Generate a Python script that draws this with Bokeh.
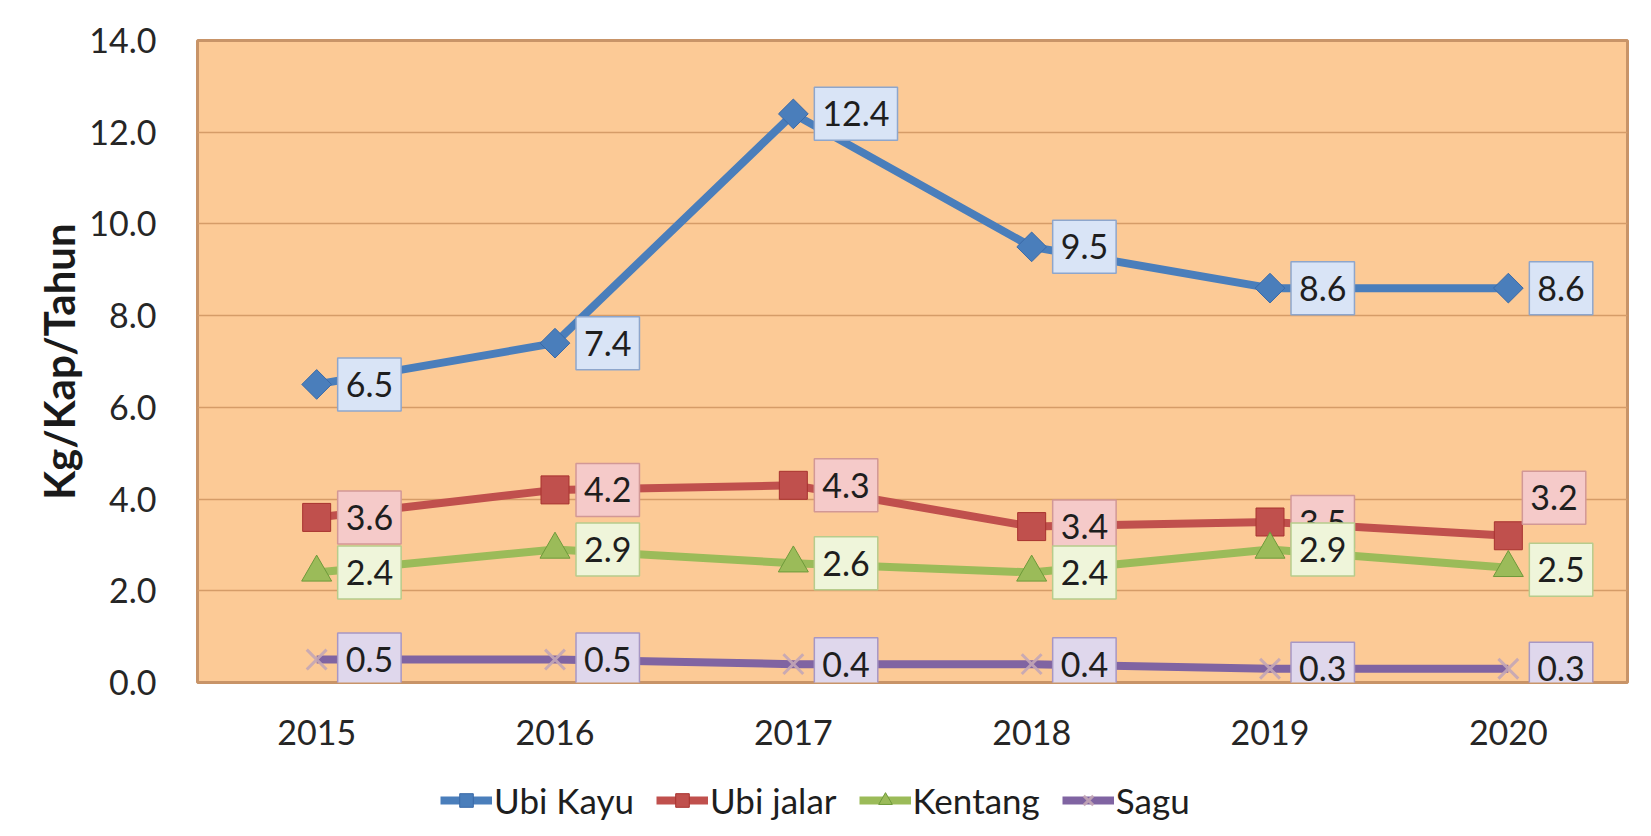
import math
from bokeh.plotting import figure
from bokeh.layouts import column
from bokeh.models import Range1d, FixedTicker, NumeralTickFormatter, Legend, LegendItem
from bokeh.core.properties import value
from bokeh.embed import file_html
from bokeh.resources import INLINE

# ---- data ----
years = ["2015", "2016", "2017", "2018", "2019", "2020"]
ubi_kayu = [6.5, 7.4, 12.4, 9.5, 8.6, 8.6]
ubi_jalar = [3.6, 4.2, 4.3, 3.4, 3.5, 3.2]
kentang = [2.4, 2.9, 2.6, 2.4, 2.9, 2.5]
sagu = [0.5, 0.5, 0.4, 0.4, 0.3, 0.3]
series_names = ["Ubi Kayu", "Ubi jalar", "Kentang", "Sagu"]
y_ticks = [0, 2, 4, 6, 8, 10, 12, 14]
y_axis_label = "Kg/Kap/Tahun"

series_values = [ubi_kayu, ubi_jalar, kentang, sagu]

# ---- styles ----
FONT = "Lato"
styles = [
    dict(color="#4A7EBB", edge="#3A6AA8", marker="square", angle=math.pi / 4, size=21,
         box="#D9E4F6", border="#8EA6CC"),
    dict(color="#C0504D", edge="#A8322F", marker="square", angle=0.0, size=28,
         box="#F5CAC9", border="#D29896"),
    dict(color="#9BBB59", edge="#6E9A3A", marker="triangle", angle=0.0, size=30,
         box="#EFF5DA", border="#B7CC8C"),
    dict(color="#8064A2", edge="#C3A6B6", marker="x", angle=0.0, size=28,
         box="#DFD7EC", border="#A797C4"),
]
# label offsets in screen pixels (default to the right of each point)
label_dx = [[21] * 6, [21, 21, 21, 21, 21, 14], [21] * 6, [21] * 6]
label_dy = [[0] * 6, [0, 0, 0, 0, 0, -38], [0, 0, 0, 0, 0, 2], [0] * 6]

W = 1643
p = figure(
    width=W, height=770,
    x_range=years, y_range=Range1d(0, y_ticks[-1]),
    output_backend="svg", toolbar_location=None,
    min_border_left=197, min_border_right=16, min_border_top=40, min_border_bottom=88,
    background_fill_color="#FCCA96", border_fill_color="white",
)
p.outline_line_color = "#C89468"
p.outline_line_width = 3

p.xgrid.grid_line_color = None
p.ygrid.grid_line_color = "#D59C68"
p.ygrid.grid_line_width = 1.5
p.yaxis.ticker = FixedTicker(ticks=y_ticks)
p.yaxis.formatter = NumeralTickFormatter(format="0.0")

for ax in (p.xaxis[0], p.yaxis[0]):
    ax.axis_line_color = None
    ax.major_tick_line_color = None
    ax.minor_tick_line_color = None
    ax.major_tick_out = 0
    ax.major_label_text_font = FONT
    ax.major_label_text_font_size = "34px"
    ax.major_label_text_color = "#262626"

p.yaxis.major_label_standoff = 41
p.xaxis.major_label_standoff = 37
p.yaxis.axis_label = y_axis_label
p.yaxis.axis_label_text_font = FONT
p.yaxis.axis_label_text_font_style = "bold"
p.yaxis.axis_label_text_font_size = "42px"
p.yaxis.axis_label_text_color = "#1a1a1a"
p.yaxis.axis_label_standoff = 2


def draw_series(fig, xs, vals, st):
    ln = fig.line(x=xs, y=vals, line_color=st["color"], line_width=8)
    if st["marker"] == "x":
        sc = fig.scatter(x=xs, y=vals, marker="x", size=st["size"],
                         line_color=st["edge"], line_width=3, line_alpha=0.9)
    else:
        sc = fig.scatter(x=xs, y=vals, marker=st["marker"], size=st["size"],
                         angle=st["angle"], fill_color=st["color"],
                         line_color=st["edge"], line_width=1)
    return ln, sc


for vals, st in zip(series_values, styles):
    draw_series(p, years, vals, st)

for vals, st, dx, dy in zip(series_values, styles, label_dx, label_dy):
    p.text(x=years, y=vals, text=[f"{v:.1f}" for v in vals],
           x_offset=dx, y_offset=dy, anchor="center_left",
           text_font=value(FONT), text_font_size="34px", text_color="#1e1e1e",
           background_fill_color=st["box"], border_line_color=st["border"],
           border_line_width=1.5,
           padding=dict(left=8, right=8, top=14, bottom=14))

# ---- legend strip below the chart ----
# the legend figure's own view range lies outside the data, so only the legend shows
leg_fig = figure(
    width=W, height=60, x_range=Range1d(-3, -2), y_range=Range1d(0, 1),
    output_backend="svg", toolbar_location=None,
    min_border_left=0, min_border_right=0, min_border_top=0, min_border_bottom=0,
    background_fill_color="white", border_fill_color="white",
)
leg_fig.axis.visible = False
leg_fig.grid.grid_line_color = None
leg_fig.outline_line_color = None

idx = list(range(len(years)))
items = []
for name, vals, st in zip(series_names, series_values, styles):
    ln, sc = draw_series(leg_fig, idx, vals, st)
    items.append(LegendItem(label=name, renderers=[ln, sc]))

legend = Legend(items=items, orientation="horizontal", location=(243, 9),
                label_text_font=FONT, label_text_font_size="35px",
                label_text_color="#1e1e1e", glyph_width=52, glyph_height=34,
                label_standoff=2, spacing=22, padding=0, margin=0,
                background_fill_alpha=0, border_line_alpha=0)
leg_fig.add_layout(legend, "center")

layout = column(p, leg_fig, spacing=0)

open("out.html", "w").write(file_html(layout, INLINE))
